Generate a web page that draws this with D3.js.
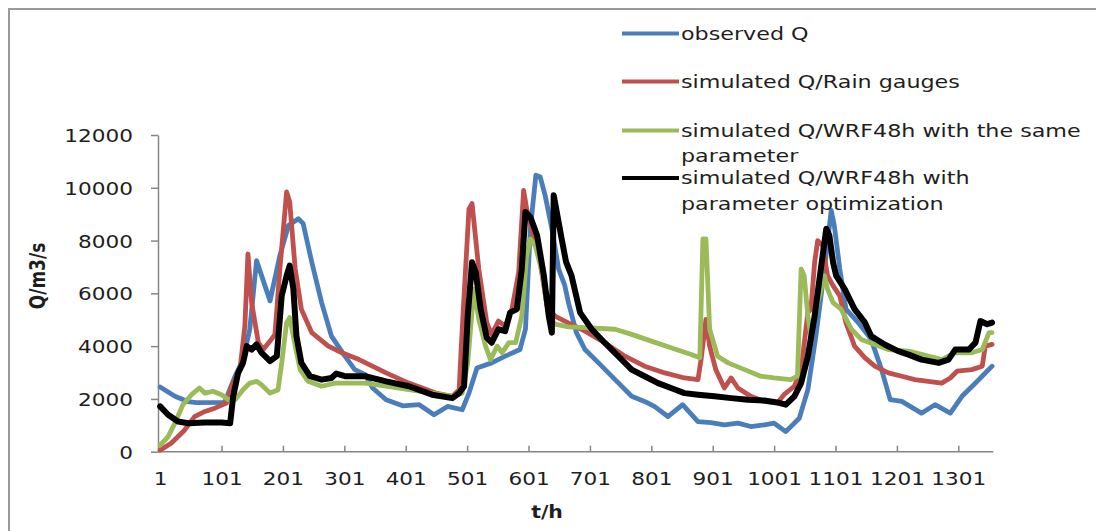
<!DOCTYPE html>
<html>
<head>
<meta charset="utf-8">
<script src="https://cdn.jsdelivr.net/npm/d3@7"></script>
<style>
  html, body { margin: 0; padding: 0; background: #fff; }
  svg { display: block; }
  text { font-family: "DejaVu Sans", Verdana, sans-serif; fill: #1e1e1e; }
</style>
</head>
<body>
<svg id="chart" width="1096" height="531"></svg>
<script>
// hourly discharge as [t (h), Q (m3/s)] breakpoints
var observedQ = [
  [1, 2450], [25, 2100], [46, 1900], [60, 1860], [106, 1870], [123, 2860], [136, 3490],
  [147, 4640], [158, 7240], [180, 5715], [196, 7430], [210, 8570], [226, 8830],
  [234, 8640], [248, 7175], [264, 5650], [280, 4380], [302, 3620], [318, 3110],
  [335, 2920], [347, 2413], [369, 1970], [396, 1740], [423, 1780], [447, 1400],
  [469, 1715], [493, 1590], [504, 2220], [517, 3175], [541, 3365], [563, 3620],
  [587, 3870], [596, 4640], [604, 8450], [613, 10480], [620, 10410], [628, 9715],
  [639, 8450], [650, 6920], [660, 6300], [666, 5650], [679, 4510], [693, 3870],
  [715, 3365], [742, 2730], [769, 2100], [790, 1905], [806, 1715], [828, 1333],
  [852, 1780], [877, 1143], [898, 1105], [920, 1016], [942, 1080], [963, 953],
  [985, 1016], [1001, 1080], [1020, 762], [1042, 1270], [1056, 2350], [1069, 4380],
  [1083, 6920], [1094, 9144], [1099, 8570], [1108, 6920], [1118, 5400], [1138, 4890],
  [1159, 4255], [1176, 3110], [1190, 1970], [1209, 1905], [1241, 1460], [1263, 1780],
  [1288, 1460], [1307, 2100], [1329, 2600], [1356, 3240]
];

var simRainGauges = [
  [1, 60], [19, 320], [41, 825], [57, 1330], [74, 1525], [90, 1650], [109, 1840],
  [117, 2480], [131, 3110], [139, 4760], [144, 7490], [150, 5650], [161, 4130],
  [169, 3870], [180, 4190], [188, 4445], [196, 6920], [207, 9840], [212, 9460],
  [221, 6920], [231, 5400], [248, 4510], [275, 4000], [297, 3750], [325, 3490],
  [369, 2985], [406, 2600], [450, 2220], [477, 2100], [488, 2350], [493, 4640],
  [504, 9200], [509, 9400], [520, 6920], [533, 4890], [541, 4445], [552, 4950],
  [563, 4760], [574, 5400], [585, 6800], [593, 9900], [598, 9200], [606, 8450],
  [620, 7175], [631, 5525], [644, 5140], [660, 4950], [693, 4570], [725, 4130],
  [758, 3620], [790, 3240], [823, 2985], [855, 2794], [877, 2730], [882, 3490],
  [890, 5015], [896, 4000], [906, 3110], [920, 2413], [931, 2794], [942, 2413],
  [963, 2100], [985, 1905], [1006, 1840], [1017, 2160], [1034, 2480], [1045, 3110],
  [1056, 5270], [1061, 5400], [1067, 7175], [1072, 8000], [1080, 7810], [1088, 6670],
  [1097, 6290], [1108, 5905], [1118, 4890], [1132, 4000], [1149, 3556], [1165, 3240],
  [1187, 2985], [1209, 2860], [1230, 2730], [1252, 2667], [1274, 2600], [1288, 2794],
  [1299, 3050], [1323, 3110], [1340, 3240], [1345, 4000], [1356, 4064]
];

var simWrfSame = [
  [1, 250], [14, 570], [25, 1080], [38, 1780], [52, 2160], [65, 2413], [74, 2220],
  [87, 2290], [101, 2160], [112, 1970], [123, 1970], [136, 2350], [147, 2600],
  [158, 2667], [166, 2540], [180, 2220], [193, 2350], [199, 3365], [207, 4890],
  [212, 5080], [221, 4000], [229, 3110], [242, 2667], [264, 2480], [286, 2600],
  [335, 2600], [369, 2480], [406, 2350], [444, 2220], [477, 2100], [493, 2220],
  [502, 3365], [512, 6160], [520, 5015], [531, 4000], [539, 3490], [550, 4000],
  [558, 3750], [569, 4130], [580, 4130], [590, 5140], [598, 7430], [604, 8060],
  [612, 7810], [623, 6800], [634, 5140], [644, 4830], [666, 4730], [693, 4700],
  [742, 4640], [769, 4445], [801, 4190], [833, 3940], [866, 3680], [880, 3560],
  [885, 8060], [890, 8060], [896, 4640], [909, 3620], [926, 3365], [953, 3110],
  [979, 2860], [1001, 2794], [1028, 2730], [1039, 2860], [1045, 6920], [1050, 6670],
  [1056, 5140], [1061, 4380], [1072, 5650], [1083, 6670], [1088, 6160], [1097, 5650],
  [1110, 5400], [1127, 4640], [1143, 4255], [1165, 4064], [1187, 3870], [1220, 3810],
  [1252, 3620], [1274, 3490], [1296, 3750], [1323, 3750], [1340, 3870], [1351, 4510],
  [1356, 4510]
];

var simWrfOptimized = [
  [1, 1715], [14, 1400], [30, 1143], [47, 1080], [74, 1105], [101, 1105], [115, 1080],
  [120, 2100], [128, 2985], [136, 3365], [142, 4000], [150, 3870], [158, 4064],
  [166, 3750], [180, 3430], [191, 3620], [199, 5905], [207, 6670], [212, 7050],
  [218, 6160], [223, 4380], [231, 3365], [245, 2860], [264, 2730], [280, 2794],
  [288, 2960], [302, 2860], [335, 2860], [369, 2667], [406, 2480], [444, 2160],
  [477, 2030], [488, 2220], [496, 2480], [502, 5140], [509, 7175], [515, 6800],
  [523, 5400], [533, 4320], [541, 4130], [552, 4640], [563, 4570], [571, 5270],
  [582, 5400], [590, 6920], [596, 9080], [604, 8890], [615, 8190], [626, 6670],
  [634, 5140], [639, 4510], [642, 9715], [647, 9080], [655, 8060], [662, 7200],
  [671, 6670], [685, 5270], [704, 4640], [725, 4130], [747, 3620], [769, 3110],
  [790, 2860], [812, 2600], [833, 2413], [855, 2220], [877, 2160], [904, 2100],
  [931, 2030], [958, 1970], [985, 1940], [1006, 1870], [1020, 1780], [1034, 2100],
  [1045, 2600], [1056, 3620], [1067, 5140], [1077, 6920], [1086, 8450], [1091, 8190],
  [1097, 7175], [1102, 6670], [1116, 6160], [1132, 5400], [1149, 4890], [1159, 4380],
  [1181, 4064], [1203, 3810], [1220, 3680], [1241, 3490], [1269, 3365], [1285, 3490],
  [1296, 3870], [1318, 3870], [1329, 4130], [1337, 4950], [1348, 4830], [1356, 4890]
];

var seriesNames = [
  ["observed Q"],
  ["simulated Q/Rain gauges"],
  ["simulated Q/WRF48h with the same", "parameter"],
  ["simulated Q/WRF48h with", "parameter optimization"]
];
var seriesColors = ["#4a7ebb", "#c0504d", "#9bbb59", "#000000"];
var xTickLabels = [1, 101, 201, 301, 401, 501, 601, 701, 801, 901, 1001, 1101, 1201, 1301];
var yTickValues = [0, 2000, 4000, 6000, 8000, 10000, 12000];

(function () {
  var allSeries = [observedQ, simRainGauges, simWrfSame, simWrfOptimized];
  var widths = [4.8, 4.8, 4.8, 6];
  var stretch = 1.2; // source picture text is drawn wide
  var legStretch = 1.235;

  var svg = d3.select("#chart");

  // chart frame (only top and left edges are visible)
  svg.append("path")
    .attr("d", "M9,531V9H1096")
    .attr("fill", "none")
    .attr("stroke", "#9a9a9a")
    .attr("stroke-width", 2);

  var x = d3.scaleLinear().domain([-2.5, 1358]).range([158, 993.3]);
  var y = d3.scaleLinear().domain([0, 12000]).range([451.7, 135]);

  var xAxis = svg.append("g")
    .attr("transform", "translate(0," + y(0) + ")")
    .call(d3.axisBottom(x).tickValues(xTickLabels).tickSizeInner(-6).tickSizeOuter(0)
      .tickFormat(d3.format("d")));
  xAxis.select(".domain").attr("stroke", "#868686").attr("stroke-width", 1.5)
    .attr("d", "M" + x(-2.5) + ",0H" + x(1358));
  xAxis.selectAll(".tick line").attr("stroke", "#868686").attr("stroke-width", 1.5)
    .filter(function (d) { return d === 1; }).remove();
  xAxis.selectAll(".tick text")
    .attr("y", 27).attr("dy", "0.36em")
    .attr("transform", "scale(" + stretch + ",1)")
    .style("font-size", "18px").style("font-family", null).attr("fill", "#1e1e1e");

  var yAxis = svg.append("g")
    .attr("transform", "translate(" + x(-2.5) + ",0)")
    .call(d3.axisLeft(y).tickValues(yTickValues).tickSizeInner(7).tickSizeOuter(0)
      .tickFormat(d3.format("d")));
  yAxis.select(".domain").attr("stroke", "#868686").attr("stroke-width", 1.5);
  yAxis.selectAll(".tick line").attr("stroke", "#868686").attr("stroke-width", 1.5);
  yAxis.selectAll(".tick text")
    .attr("x", -25 / stretch).attr("dy", "0.36em")
    .attr("transform", "scale(" + stretch + ",1)")
    .style("font-size", "18px").style("font-family", null).attr("fill", "#1e1e1e");

  // axis titles
  svg.append("text")
    .attr("transform", "translate(547,512) scale(" + stretch + ",1)")
    .attr("text-anchor", "middle").attr("dy", "0.36em")
    .style("font-size", "17px").style("font-weight", "bold")
    .text("t/h");
  svg.append("text")
    .attr("transform", "translate(38,276) rotate(-90) scale(1," + stretch + ")")
    .attr("text-anchor", "middle").attr("dy", "0.36em")
    .style("font-size", "17px").style("font-weight", "bold")
    .text("Q/m3/s");

  var line = d3.line()
    .x(function (d) { return x(d[0]); })
    .y(function (d) { return y(d[1]); });

  svg.append("g").selectAll("path")
    .data(allSeries)
    .join("path")
    .attr("d", line)
    .attr("fill", "none")
    .attr("stroke", function (d, i) { return seriesColors[i]; })
    .attr("stroke-width", function (d, i) { return widths[i]; })
    .attr("stroke-linejoin", "round")
    .attr("stroke-linecap", "round");

  // legend
  var legendRows = [33.5, 81.5, 130.5, 178];
  var leg = svg.append("g");
  seriesNames.forEach(function (lines, i) {
    var ly = legendRows[i];
    leg.append("line")
      .attr("x1", 622).attr("x2", 679)
      .attr("y1", ly).attr("y2", ly)
      .attr("stroke", seriesColors[i])
      .attr("stroke-width", 4);
    lines.forEach(function (s, k) {
      leg.append("text")
        .attr("transform", "translate(681," + (ly + k * 25.5) + ") scale(" + legStretch + ",1)")
        .attr("dy", "0.36em")
        .style("font-size", "18px")
        .text(s);
    });
  });
})();
</script>
</body>
</html>
